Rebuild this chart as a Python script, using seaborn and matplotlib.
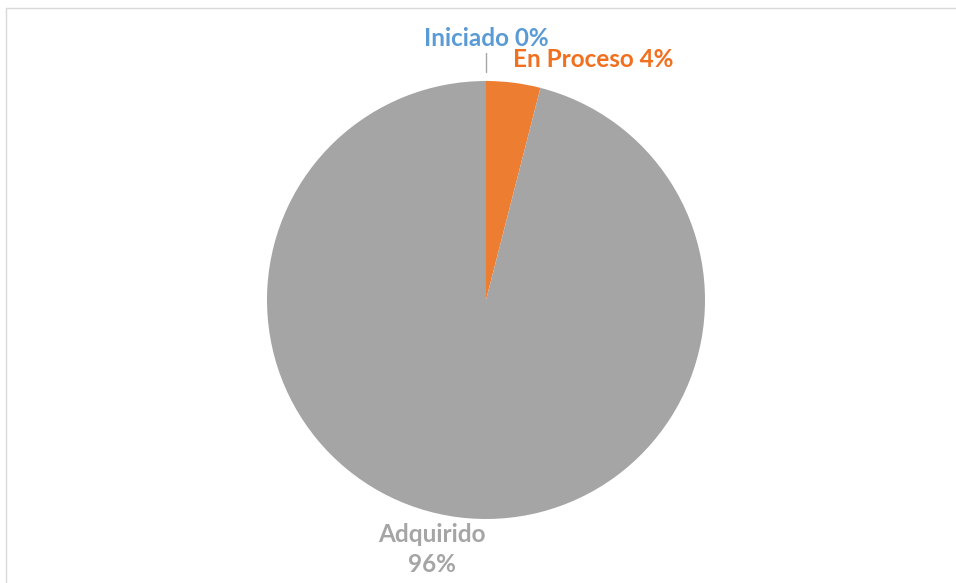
import matplotlib
matplotlib.use("Agg")
import matplotlib.pyplot as plt
import seaborn as sns
from matplotlib.lines import Line2D

categories = ["Iniciado", "En Proceso", "Adquirido"]
values = [0, 4, 96]
slice_colors = ["#5B9BD5", "#ED7D31", "#A5A5A5"]
label_colors = ["#5B9BD5", "#F07020", "#A5A5A5"]

sns.set_theme(style="white")
plt.rcParams['font.family'] = ['Lato', 'DejaVu Sans']

fig = plt.figure(figsize=(9.56, 5.83), dpi=100)
fig.patch.set_facecolor("white")
ax = fig.add_axes([267/956, 64/583, 438/956, 438/583])
ax.pie(values, colors=slice_colors, startangle=90, counterclock=False,
       radius=1.0, wedgeprops=dict(linewidth=0))
ax.set_xlim(-1, 1)
ax.set_ylim(-1, 1)
ax.set_aspect("equal")
ax.axis("off")

fs = 17.5
# Iniciado
ax.text(0.0, 1.195, f"{categories[0]} {values[0]}%", ha="center", va="center",
        color=label_colors[0], fontsize=fs, fontweight="bold")
ax.plot([0, 0], [1.04, 1.13], color="#A5A5A5", lw=1, clip_on=False)
# En Proceso
ax.text(0.49, 1.096, f"{categories[1]} {values[1]}%", ha="center", va="center",
        color=label_colors[1], fontsize=fs, fontweight="bold")
# Adquirido
ax.text(-0.245, -1.14, f"{categories[2]}\n{values[2]}%", ha="center", va="center",
        color=label_colors[2], fontsize=fs, fontweight="bold", linespacing=1.35)

# chart border (top and left visible)
fig.add_artist(Line2D([6/956, 1.0], [1-8/583, 1-8/583], transform=fig.transFigure,
                      color="#D9D9D9", lw=1))
fig.add_artist(Line2D([6/956, 6/956], [0, 1-8/583], transform=fig.transFigure,
                      color="#D9D9D9", lw=1))

fig.savefig("out.png", dpi=100, facecolor="white")
